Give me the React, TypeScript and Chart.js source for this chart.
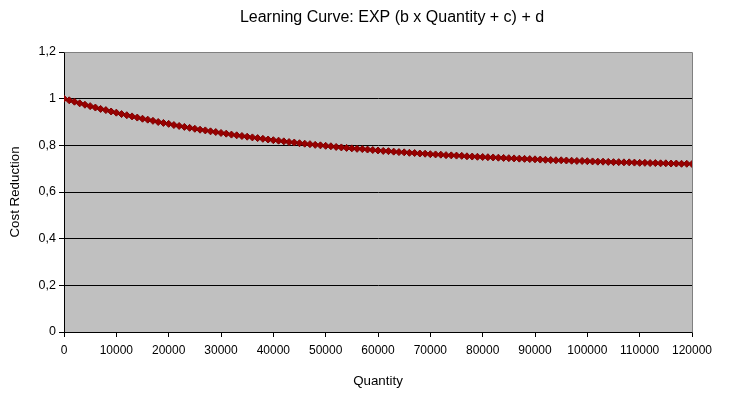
import React, { useEffect, useRef } from "react";
import { Chart, registerables } from "chart.js";

Chart.register(...registerables);

const chartTitle = "Learning Curve: EXP (b x Quantity + c) + d";
const xAxisTitle = "Quantity";
const yAxisTitle = "Cost Reduction";

const quantity = [
  0, 1000, 2000, 3000, 4000, 5000, 6000, 7000, 8000, 9000,
  10000, 11000, 12000, 13000, 14000, 15000, 16000, 17000, 18000, 19000,
  20000, 21000, 22000, 23000, 24000, 25000, 26000, 27000, 28000, 29000,
  30000, 31000, 32000, 33000, 34000, 35000, 36000, 37000, 38000, 39000,
  40000, 41000, 42000, 43000, 44000, 45000, 46000, 47000, 48000, 49000,
  50000, 51000, 52000, 53000, 54000, 55000, 56000, 57000, 58000, 59000,
  60000, 61000, 62000, 63000, 64000, 65000, 66000, 67000, 68000, 69000,
  70000, 71000, 72000, 73000, 74000, 75000, 76000, 77000, 78000, 79000,
  80000, 81000, 82000, 83000, 84000, 85000, 86000, 87000, 88000, 89000,
  90000, 91000, 92000, 93000, 94000, 95000, 96000, 97000, 98000, 99000,
  100000, 101000, 102000, 103000, 104000, 105000, 106000, 107000, 108000, 109000,
  110000, 111000, 112000, 113000, 114000, 115000, 116000, 117000, 118000, 119000,
  120000,
];

const costReduction = [
  1.0, 0.993, 0.987, 0.98, 0.974, 0.968, 0.962, 0.956, 0.951, 0.945,
  0.94, 0.934, 0.929, 0.924, 0.919, 0.914, 0.91, 0.905, 0.9, 0.896,
  0.892, 0.887, 0.883, 0.879, 0.875, 0.871, 0.867, 0.864, 0.86, 0.857,
  0.853, 0.85, 0.846, 0.843, 0.84, 0.837, 0.834, 0.831, 0.828, 0.825,
  0.822, 0.82, 0.817, 0.814, 0.812, 0.809, 0.807, 0.805, 0.802, 0.8,
  0.798, 0.796, 0.793, 0.791, 0.789, 0.787, 0.785, 0.784, 0.782, 0.78,
  0.778, 0.776, 0.775, 0.773, 0.771, 0.77, 0.768, 0.767, 0.765, 0.764,
  0.762, 0.761, 0.76, 0.758, 0.757, 0.756, 0.755, 0.753, 0.752, 0.751,
  0.75, 0.749, 0.748, 0.747, 0.746, 0.745, 0.744, 0.743, 0.742, 0.741,
  0.74, 0.739, 0.738, 0.737, 0.736, 0.736, 0.735, 0.734, 0.733, 0.733,
  0.732, 0.731, 0.73, 0.73, 0.729, 0.728, 0.728, 0.727, 0.727, 0.726,
  0.725, 0.725, 0.724, 0.724, 0.723, 0.723, 0.722, 0.722, 0.721, 0.721,
  0.72,
];

const yTickValues = [0, 0.2, 0.4, 0.6, 0.8, 1, 1.2];
const yTickLabels = ["0", "0,2", "0,4", "0,6", "0,8", "1", "1,2"];

const FONT = "'Liberation Sans', Arial, Helvetica, sans-serif";

const plotDecor = {
  id: "plotDecor",
  beforeDraw(chart: any) {
    const { ctx, chartArea } = chart;
    const { left, top, right, bottom } = chartArea;
    ctx.save();
    ctx.fillStyle = "#C0C0C0";
    ctx.fillRect(left, top, right - left, bottom - top);
    ctx.restore();
  },
  afterDraw(chart: any) {
    const { ctx, chartArea } = chart;
    const { left, top, right } = chartArea;
    ctx.save();
    ctx.strokeStyle = "#808080";
    ctx.lineWidth = 1;
    ctx.beginPath();
    ctx.moveTo(Math.round(left) + 0.5, Math.round(top) + 0.5);
    ctx.lineTo(Math.round(right) + 0.5, Math.round(top) + 0.5);
    ctx.lineTo(Math.round(right) + 0.5, Math.round(chartArea.bottom) + 0.5);
    ctx.stroke();
    ctx.fillStyle = "#000";
    ctx.font = `16px ${FONT}`;
    ctx.textAlign = "center";
    ctx.textBaseline = "middle";
    ctx.fillText(chartTitle, 392, 18);
    ctx.restore();
  },
};

export default function App() {
  const ref = useRef<HTMLCanvasElement | null>(null);

  useEffect(() => {
    if (!ref.current) return;
    const points = quantity.map((q, i) => ({ x: q, y: costReduction[i] }));
    const chart = new Chart(ref.current, {
      type: "scatter",
      data: {
        datasets: [
          {
            data: points,
            showLine: true,
            borderColor: "#800000",
            borderWidth: 2,
            pointStyle: "rectRot",
            pointRadius: 3.5,
            pointBackgroundColor: "#990000",
            pointBorderColor: "#800000",
            pointBorderWidth: 1,
          },
        ],
      },
      options: {
        animation: false,
        responsive: false,
        maintainAspectRatio: false,
        layout: { padding: { top: 52, right: 50, bottom: 0, left: 0 } },
        plugins: {
          legend: { display: false },
          title: { display: false },
          tooltip: { enabled: false },
        },
        scales: {
          x: {
            type: "linear",
            min: 0,
            max: 120000,
            afterFit: (scale: any) => {
              scale.height = 66;
            },
            afterBuildTicks: (scale: any) => {
              scale.ticks = quantity
                .filter((q) => q % 10000 === 0)
                .map((v) => ({ value: v }));
            },
            ticks: {
              autoSkip: false,
              maxRotation: 0,
              minRotation: 0,
              padding: 6,
              color: "#000",
              font: { family: FONT, size: 12 },
              callback: (v: any) => String(v),
            },
            grid: {
              drawOnChartArea: false,
              drawTicks: true,
              tickLength: 5,
              color: "#000",
              tickColor: "#000",
            },
            border: { color: "#000", width: 1 },
            title: {
              display: true,
              text: xAxisTitle,
              color: "#000",
              font: { family: FONT, size: 13.33 },
              padding: { top: 0, bottom: 9 },
            },
          },
          y: {
            type: "linear",
            min: 0,
            max: 1.2,
            afterFit: (scale: any) => {
              scale.width = 64;
            },
            afterBuildTicks: (scale: any) => {
              scale.ticks = yTickValues.map((v) => ({ value: v }));
            },
            ticks: {
              padding: 3,
              color: "#000",
              font: { family: FONT, size: 12.5 },
              callback: (v: any, i: number) => yTickLabels[i],
            },
            grid: {
              drawTicks: true,
              tickLength: 5,
              color: (c: any) =>
                c.tick && c.tick.value >= 1.2 ? "#808080" : "#000",
              tickColor: "#000",
            },
            border: { color: "#000", width: 1 },
            title: {
              display: true,
              text: yAxisTitle,
              color: "#000",
              font: { family: FONT, size: 13.33 },
              padding: { top: 7, bottom: 0 },
            },
          },
        },
      },
      plugins: [plotDecor],
    });
    return () => chart.destroy();
  }, []);

  return (
    <div style={{ position: "absolute", left: 0, top: 0, width: 742, height: 398, background: "#fff" }}>
      <canvas ref={ref} width={742} height={398} style={{ width: 742, height: 398 }} />
    </div>
  );
}
